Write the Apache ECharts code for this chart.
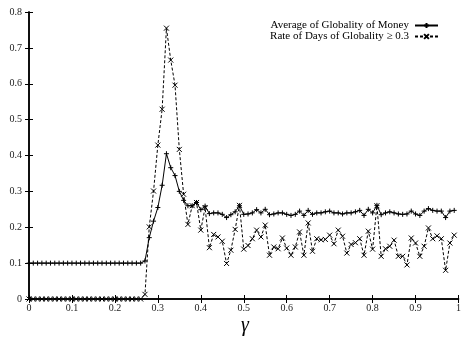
<!DOCTYPE html>
<html><head><meta charset="utf-8">
<script src="https://cdn.jsdelivr.net/npm/echarts@6/dist/echarts.min.js"></script>
<style>html,body{margin:0;padding:0;background:#fff}#c{width:464px;height:337px}</style>
</head><body><div id="c"></div>
<script>
const gamma = [0.00,0.01,0.02,0.03,0.04,0.05,0.06,0.07,0.08,0.09,
0.10,0.11,0.12,0.13,0.14,0.15,0.16,0.17,0.18,0.19,
0.20,0.21,0.22,0.23,0.24,0.25,0.26,0.27,0.28,0.29,
0.30,0.31,0.32,0.33,0.34,0.35,0.36,0.37,0.38,0.39,
0.40,0.41,0.42,0.43,0.44,0.45,0.46,0.47,0.48,0.49,
0.50,0.51,0.52,0.53,0.54,0.55,0.56,0.57,0.58,0.59,
0.60,0.61,0.62,0.63,0.64,0.65,0.66,0.67,0.68,0.69,
0.70,0.71,0.72,0.73,0.74,0.75,0.76,0.77,0.78,0.79,
0.80,0.81,0.82,0.83,0.84,0.85,0.86,0.87,0.88,0.89,
0.90,0.91,0.92,0.93,0.94,0.95,0.96,0.97,0.98,0.99];
const avgGlobality = [0.1,0.1,0.1,0.1,0.1,0.1,0.1,0.1,0.1,0.1,
0.1,0.1,0.1,0.1,0.1,0.1,0.1,0.1,0.1,0.1,
0.1,0.1,0.1,0.1,0.1,0.1,0.1,0.106,0.171,0.217,
0.255,0.317,0.405,0.366,0.344,0.300,0.275,0.260,0.260,0.269,
0.249,0.259,0.238,0.240,0.240,0.236,0.227,0.235,0.243,0.260,
0.236,0.237,0.240,0.249,0.240,0.250,0.235,0.237,0.240,0.240,
0.236,0.233,0.236,0.245,0.233,0.247,0.236,0.240,0.240,0.243,
0.245,0.240,0.240,0.237,0.240,0.240,0.243,0.247,0.233,0.250,
0.240,0.261,0.235,0.240,0.243,0.240,0.237,0.236,0.237,0.245,
0.237,0.233,0.245,0.252,0.247,0.245,0.245,0.227,0.245,0.247];
const rateDays = [0,0,0,0,0,0,0,0,0,0,
0,0,0,0,0,0,0,0,0,0,
0,0,0,0,0,0,0,0.013,0.201,0.301,
0.429,0.529,0.755,0.666,0.596,0.417,0.292,0.208,0.260,0.269,
0.192,0.255,0.143,0.180,0.173,0.161,0.099,0.136,0.194,0.261,
0.139,0.149,0.168,0.192,0.173,0.206,0.122,0.145,0.140,0.170,
0.142,0.122,0.145,0.187,0.122,0.212,0.133,0.168,0.165,0.166,
0.178,0.154,0.192,0.175,0.128,0.152,0.157,0.168,0.122,0.189,
0.139,0.260,0.119,0.140,0.147,0.164,0.119,0.119,0.095,0.170,
0.156,0.119,0.147,0.198,0.168,0.176,0.168,0.080,0.156,0.178];
const seriesNames = ['Average of Globality of Money', 'Rate of Days of Globality \u2265 0.3'];
const xTicks = [0,0.1,0.2,0.3,0.4,0.5,0.6,0.7,0.8,0.9,1];
const yTicks = [0,0.1,0.2,0.3,0.4,0.5,0.6,0.7,0.8];

const FONT = '"Liberation Serif", "DejaVu Serif", serif';
const plusPath = 'path://M0,5L10,5M5,0L5,10';
const crossPath = 'path://M0,0L10,10M10,0L0,10';
const tick = {inside:true, length:4, lineStyle:{color:'#000', width:1}};
const line = {lineStyle:{color:'#000', width:1.5}};
function fmt(v){ return v === 0 ? '0' : (v === 1 ? '1' : v.toFixed(1)); }

const chart = echarts.init(document.getElementById('c'), null, {renderer:'canvas'});
chart.setOption({
  animation:false,
  backgroundColor:'#fff',
  grid:{left:29, right:5, top:12, bottom:38, containLabel:false},
  legend:{
    orient:'vertical', right:20, top:15, align:'right',
    itemWidth:23, itemHeight:6, itemGap:0,
    textStyle:{fontFamily:FONT, fontSize:11, color:'#000', lineHeight:10, padding:[0,1,0,0]},
    data:seriesNames
  },
  xAxis:[
    {type:'value', min:xTicks[0], max:xTicks[xTicks.length-1], interval:0.1, position:'bottom',
     axisLine:line, axisTick:tick, splitLine:{show:false},
     axisLabel:{fontFamily:FONT, fontSize:10, color:'#222', margin:4, formatter:fmt}},
    {type:'value', min:0, max:1, interval:0.1, position:'top',
     axisLine:line, axisTick:tick, splitLine:{show:false}, axisLabel:{show:false}}
  ],
  yAxis:[
    {type:'value', min:yTicks[0], max:yTicks[yTicks.length-1], interval:0.1, position:'left',
     axisLine:{show:true, lineStyle:{color:'#000', width:1.5}}, axisTick:{show:true, inside:true, length:4, lineStyle:{color:'#000'}}, splitLine:{show:false},
     axisLabel:{fontFamily:FONT, fontSize:10, color:'#222', margin:7, formatter:fmt}},
    {type:'value', min:0, max:0.8, interval:0.1, position:'right',
     axisLine:{show:true, lineStyle:{color:'#000', width:1.5}}, axisTick:{show:true, inside:true, length:4, lineStyle:{color:'#000'}}, splitLine:{show:false}, axisLabel:{show:false}}
  ],
  graphic:[{type:'text', left:241, top:316,
    style:{text:'\u03b3', font:'italic 20px ' + FONT, fill:'#000'}}],
  series:[
    {name:seriesNames[0], type:'line', xAxisIndex:0, yAxisIndex:0,
     data:gamma.map((g,i)=>[g, avgGlobality[i]]),
     symbol:plusPath, symbolSize:5, showSymbol:true,
     itemStyle:{color:'#000', borderColor:'#000', borderWidth:1},
     lineStyle:{color:'#000', width:1}},
    {name:seriesNames[1], type:'line', xAxisIndex:0, yAxisIndex:0,
     data:gamma.map((g,i)=>[g, rateDays[i]]),
     symbol:crossPath, symbolSize:5, showSymbol:true,
     itemStyle:{color:'#000', borderColor:'#000', borderWidth:1},
     lineStyle:{color:'#000', width:1, type:[3,2]}}
  ]
});
</script></body></html>
